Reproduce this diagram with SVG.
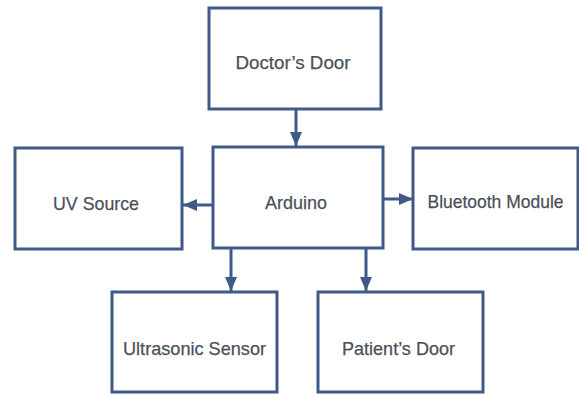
<svg xmlns="http://www.w3.org/2000/svg" width="579" height="394" viewBox="0 0 579 394">
<defs>
<style>
.box{fill:#ffffff;stroke:#3f5a88;stroke-width:3}
.lbl{font-family:"Liberation Sans",Arial,sans-serif;font-size:19px;fill:#4b505a;text-anchor:middle;stroke:#4b505a;stroke-width:0.25}
.conn{stroke:#3f5a88;stroke-width:3;fill:none}
</style>
<marker id="ah" markerWidth="14" markerHeight="12" refX="14" refY="6" orient="auto" markerUnits="userSpaceOnUse">
<path d="M0,0 L14,6 L0,12 Z" fill="#3f5a88"/>
</marker>
</defs>
<rect width="579" height="394" fill="#ffffff"/>
<g id="connectors">
<line class="conn" x1="296" y1="109" x2="296" y2="146" marker-end="url(#ah)"/>
<line class="conn" x1="213" y1="205" x2="183" y2="205" marker-end="url(#ah)"/>
<line class="conn" x1="383" y1="199" x2="413" y2="199" marker-end="url(#ah)"/>
<line class="conn" x1="231" y1="248" x2="231" y2="291" marker-end="url(#ah)"/>
<line class="conn" x1="366" y1="248" x2="366" y2="291" marker-end="url(#ah)"/>
</g>
<g id="doctors-door">
<rect class="box" x="209" y="8" width="172" height="101"/>
<text class="lbl" x="293" y="69" textLength="115" lengthAdjust="spacingAndGlyphs">Doctor’s  Door</text>
</g>
<g id="arduino">
<rect class="box" x="213" y="147" width="170" height="101"/>
<text class="lbl" x="296" y="209" textLength="62" lengthAdjust="spacingAndGlyphs">Arduino</text>
</g>
<g id="uv-source">
<rect class="box" x="15" y="148" width="167" height="101"/>
<text class="lbl" x="96" y="210" textLength="86" lengthAdjust="spacingAndGlyphs">UV Source</text>
</g>
<g id="bluetooth-module">
<rect class="box" x="413" y="148" width="165" height="101"/>
<text class="lbl" x="495.5" y="208" textLength="136" lengthAdjust="spacingAndGlyphs">Bluetooth Module</text>
</g>
<g id="ultrasonic-sensor">
<rect class="box" x="112" y="292" width="165" height="100"/>
<text class="lbl" x="194.5" y="355" textLength="143" lengthAdjust="spacingAndGlyphs">Ultrasonic Sensor</text>
</g>
<g id="patients-door">
<rect class="box" x="318" y="292" width="165" height="100"/>
<text class="lbl" x="398.5" y="355" textLength="113" lengthAdjust="spacingAndGlyphs">Patient’s Door</text>
</g>
</svg>
